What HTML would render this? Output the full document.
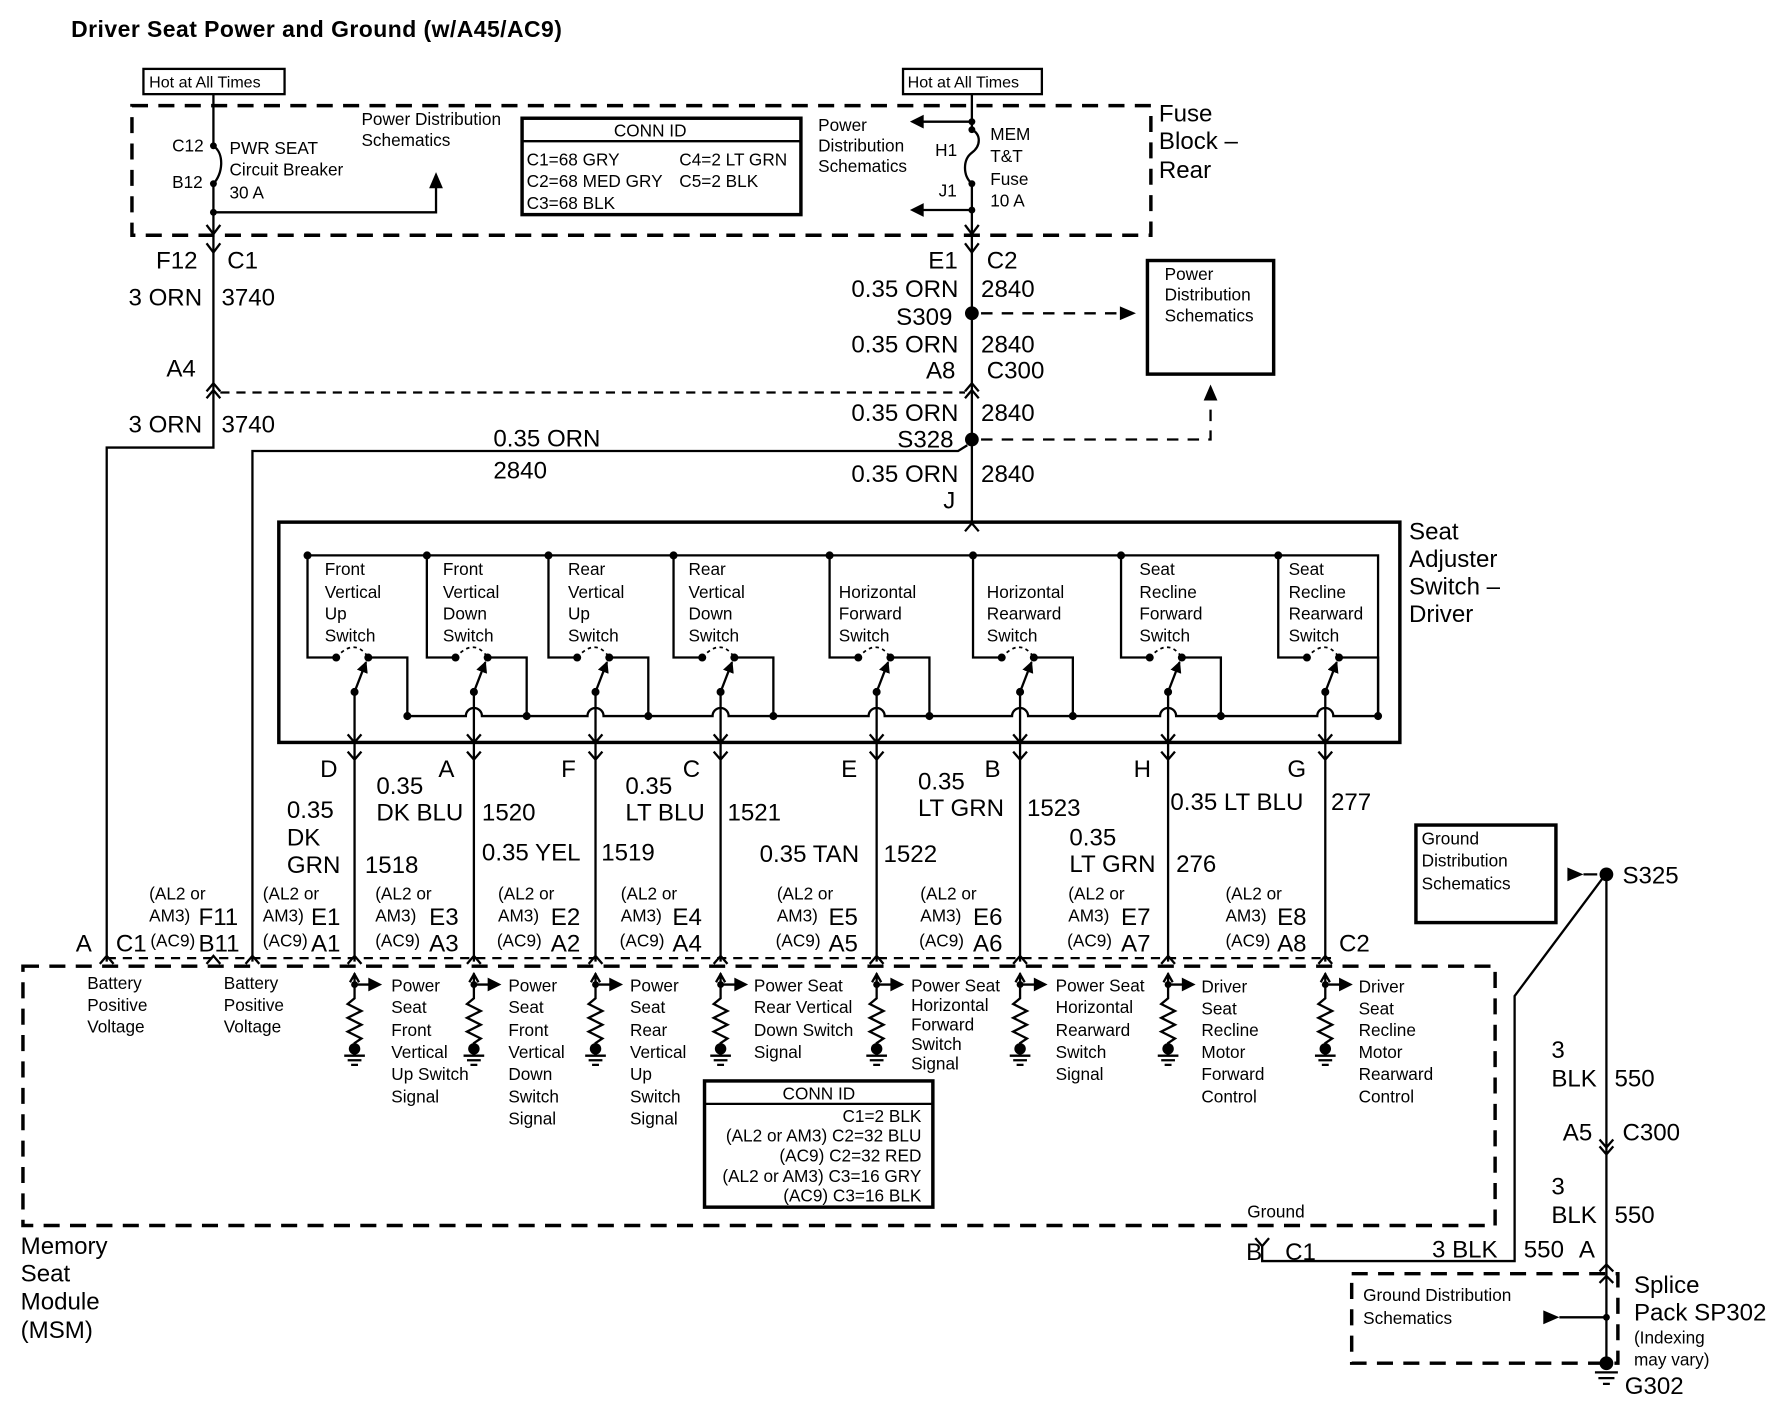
<!DOCTYPE html>
<html><head><meta charset="utf-8"><style>
html,body{margin:0;padding:0;background:#fff}
svg{display:block}
text{font-family:"Liberation Sans",sans-serif;fill:#000}
.b{font-size:21px}
.s{font-size:15px}
.t{font-size:14px}
</style></head><body>
<svg width="1790" height="1408" viewBox="0 0 1560 1227" xmlns="http://www.w3.org/2000/svg" xmlns:xlink="http://www.w3.org/1999/xlink">
<defs>
<marker id="ar" viewBox="0 0 10 10" refX="9" refY="5" markerWidth="5" markerHeight="5" orient="auto"><path d="M0,0L10,5L0,10z"/></marker>
<g id="sw">
<g stroke="#000" fill="none" stroke-width="2">
<path d="M-41,484V573H-16 M12,573H46V624"/>
<path d="M-16,573Q0,555 12,573" stroke-dasharray="3,3" stroke-width="1.5"/>
<path d="M0,603L10,577" marker-end="url(#ar)"/>
<path d="M0,603V838 M-6,640L0,647L6,640 M-6,655L0,662L6,655 M-6,840L0,833L6,840"/>
<path d="M0,848V870l-6,5l12,6l-12,6l12,6l-12,6l12,6l-6,4V910 M-4,856L0,849L4,856 M0,858H14 M-9,920H9 M-6,924H6 M-3,928H3"/>
</g>
<g fill="#000">
<path d="M12,852L24,858L12,864z"/>
<circle cx="-16" cy="573" r="3.5"/><circle cx="12" cy="573" r="3.5"/><circle cx="0" cy="603" r="3.5"/>
<circle cx="46" cy="624" r="3.5"/><circle cx="-41" cy="484" r="3.5"/>
<circle cx="0" cy="858" r="3"/><circle cx="0" cy="914" r="5"/>
</g>
</g>
</defs>
<rect width="1560" height="1227" fill="#fff"/>
<g stroke="#000" fill="none" stroke-width="2">
<rect x="115" y="92" width="888" height="113" stroke-dasharray="14,9" stroke-width="3"/>
<rect x="125" y="60" width="123" height="22"/>
<rect x="787" y="60" width="121" height="22"/>
<rect x="455" y="103" width="243" height="84" stroke-width="3"/>
<line x1="455" y1="123" x2="698" y2="123"/>
<path d="M186,82V127 M186,160V220 M186,127 C196,134 194,152 186,160"/>
<path d="M186,185H380V162"/>
<path d="M180,196L186,204L192,196"/>
<path d="M847,82V113 M847,160V220 M847,113c8,4 8,14 0,20c-8,6 -8,20 0,27"/>
<path d="M847,106H803 M847,183H803"/>
<path d="M841,196L847,204L853,196"/>
<path d="M180,212L186,220L192,212 M841,212L847,220L853,212"/>
<path d="M186,220V390H93V838"/>
<path d="M180,341L186,334L192,341 M180,347L186,340L192,347"/>
<path d="M841,341L847,334L853,341 M841,347L847,340L853,347"/>
<path d="M192,342H841" stroke-dasharray="8,6"/>
<path d="M847,220V455"/>
<path d="M855,273H975" stroke-dasharray="10,8"/>
<rect x="1000" y="227" width="110" height="99" stroke-width="3"/>
<path d="M855,383H1055V350" stroke-dasharray="10,8"/>
<path d="M843,388L835,393H220V838"/>
<path d="M841,463L847,456L853,463"/>
<rect x="243" y="455" width="977" height="192" stroke-width="3"/>
<path d="M268,484H1201V624"/>
<path d="M355,624H406a7,7 0 0 1 14,0H512a7,7 0 0 1 14,0H621a7,7 0 0 1 14,0H757a7,7 0 0 1 14,0H882a7,7 0 0 1 14,0H1011a7,7 0 0 1 14,0H1148a7,7 0 0 1 14,0H1201"/>
<rect x="20" y="842" width="1283" height="226" stroke-dasharray="14,9" stroke-width="3"/>
<path d="M93,835H1160" stroke-dasharray="8,6"/>
<path d="M87,840L93,833L99,840 M180,840L186,833L192,840 M214,840L220,833L226,840"/>
<rect x="614" y="942" width="199" height="110" stroke-width="3"/>
<line x1="614" y1="962" x2="813" y2="962"/>
<path d="M1094,1079L1100,1086L1106,1079 M1100,1086V1099H1320V868L1397,765"/>
<rect x="1234" y="719" width="122" height="85" stroke-width="3"/>
<path d="M1400,762V1188 M1394,993L1400,1000L1406,993 M1394,999L1400,1006L1406,999"/>
<path d="M1394,1108L1400,1102L1406,1108 M1394,1118L1400,1112L1406,1118"/>
<path d="M1380,762H1392 M1359,1148H1400"/>
<rect x="1178" y="1110" width="232" height="78" stroke-dasharray="14,9" stroke-width="3"/>
<path d="M1390,1196H1410 M1393,1201H1407 M1397,1206H1403"/>
</g>
<g fill="#000">
<path d="M374,164L380,150L386,164z M805,100L793,106L805,112z M805,177L793,183L805,189z M976,267L990,273L976,279z M1049,349L1055,335L1061,349z M1366,756L1380,762L1366,768z M1345,1142L1359,1148L1345,1154z"/>
<circle cx="186" cy="127" r="3"/><circle cx="186" cy="160" r="3"/><circle cx="186" cy="185" r="3"/>
<circle cx="847" cy="106" r="3"/><circle cx="847" cy="113" r="3"/><circle cx="847" cy="160" r="3"/><circle cx="847" cy="183" r="3"/>
<circle cx="847" cy="273" r="6"/><circle cx="847" cy="383" r="6"/>
<circle cx="1400" cy="762" r="6"/><circle cx="1400" cy="1148" r="3"/><circle cx="1400" cy="1188" r="6"/>
</g>
<use xlink:href="#sw" href="#sw" x="309"/>
<use xlink:href="#sw" href="#sw" x="413"/>
<use xlink:href="#sw" href="#sw" x="519"/>
<use xlink:href="#sw" href="#sw" x="628"/>
<use xlink:href="#sw" href="#sw" x="764"/>
<use xlink:href="#sw" href="#sw" x="889"/>
<use xlink:href="#sw" href="#sw" x="1018"/>
<use xlink:href="#sw" href="#sw" x="1155"/>
<text x="62" y="32" style="font-size:20px;font-weight:bold;letter-spacing:0.4px">Driver Seat Power and Ground (w/A45/AC9)</text>
<text class="t" x="130" y="76">Hot at All Times</text>
<text class="t" x="791" y="76">Hot at All Times</text>
<text class="s" x="315" y="109">Power Distribution</text><text class="s" x="315" y="127">Schematics</text>
<text class="s" x="150" y="132">C12</text><text class="s" x="150" y="164">B12</text>
<text class="s" x="200" y="134">PWR SEAT</text><text class="s" x="200" y="153">Circuit Breaker</text><text class="s" x="200" y="173">30 A</text>
<text class="s" x="535" y="119">CONN ID</text>
<text class="s" x="459" y="144">C1=68 GRY</text><text class="s" x="592" y="144">C4=2 LT GRN</text>
<text class="s" x="459" y="163">C2=68 MED GRY</text><text class="s" x="592" y="163">C5=2 BLK</text>
<text class="s" x="459" y="182">C3=68 BLK</text>
<text class="s" x="713" y="114">Power</text><text class="s" x="713" y="132">Distribution</text><text class="s" x="713" y="150">Schematics</text>
<text class="s" x="815" y="136">H1</text><text class="s" x="818" y="171">J1</text>
<text class="s" x="863" y="122">MEM</text><text class="s" x="863" y="141">T&amp;T</text><text class="s" x="863" y="161">Fuse</text><text class="s" x="863" y="180">10 A</text>
<text class="b" x="1010" y="106">Fuse</text><text class="b" x="1010" y="130">Block –</text><text class="b" x="1010" y="155">Rear</text>
<text class="b" x="136" y="234">F12</text><text class="b" x="198" y="234">C1</text>
<text class="b" x="112" y="266">3 ORN</text><text class="b" x="193" y="266">3740</text>
<text class="b" x="145" y="328">A4</text>
<text class="b" x="112" y="377">3 ORN</text><text class="b" x="193" y="377">3740</text>
<text class="b" x="809" y="234">E1</text><text class="b" x="860" y="234">C2</text>
<text class="b" x="742" y="259">0.35 ORN</text><text class="b" x="855" y="259">2840</text>
<text class="b" x="781" y="283">S309</text>
<text class="b" x="742" y="307">0.35 ORN</text><text class="b" x="855" y="307">2840</text>
<text class="b" x="807" y="330">A8</text><text class="b" x="860" y="330">C300</text>
<text class="b" x="742" y="367">0.35 ORN</text><text class="b" x="855" y="367">2840</text>
<text class="b" x="782" y="390">S328</text>
<text class="b" x="742" y="420">0.35 ORN</text><text class="b" x="855" y="420">2840</text>
<text class="b" x="822" y="443">J</text>
<text class="b" x="430" y="389">0.35 ORN</text><text class="b" x="430" y="417">2840</text>
<text class="s" x="1015" y="244">Power</text><text class="s" x="1015" y="262">Distribution</text><text class="s" x="1015" y="280">Schematics</text>
<text class="b" x="1228" y="470">Seat</text><text class="b" x="1228" y="494">Adjuster</text><text class="b" x="1228" y="518">Switch –</text><text class="b" x="1228" y="542">Driver</text>
<g class="s">
<text x="283" y="501">Front</text><text x="283" y="521">Vertical</text><text x="283" y="540">Up</text><text x="283" y="559">Switch</text>
<text x="386" y="501">Front</text><text x="386" y="521">Vertical</text><text x="386" y="540">Down</text><text x="386" y="559">Switch</text>
<text x="495" y="501">Rear</text><text x="495" y="521">Vertical</text><text x="495" y="540">Up</text><text x="495" y="559">Switch</text>
<text x="600" y="501">Rear</text><text x="600" y="521">Vertical</text><text x="600" y="540">Down</text><text x="600" y="559">Switch</text>
<text x="731" y="521">Horizontal</text><text x="731" y="540">Forward</text><text x="731" y="559">Switch</text>
<text x="860" y="521">Horizontal</text><text x="860" y="540">Rearward</text><text x="860" y="559">Switch</text>
<text x="993" y="501">Seat</text><text x="993" y="521">Recline</text><text x="993" y="540">Forward</text><text x="993" y="559">Switch</text>
<text x="1123" y="501">Seat</text><text x="1123" y="521">Recline</text><text x="1123" y="540">Rearward</text><text x="1123" y="559">Switch</text>
</g>
<g class="b">
<text x="279" y="677">D</text><text x="382" y="677">A</text><text x="489" y="677">F</text><text x="595" y="677">C</text><text x="733" y="677">E</text><text x="858" y="677">B</text><text x="988" y="677">H</text><text x="1122" y="677">G</text>
<text x="250" y="713">0.35</text><text x="250" y="737">DK</text><text x="250" y="761">GRN</text><text x="318" y="761">1518</text>
<text x="328" y="692">0.35</text><text x="328" y="715">DK BLU</text><text x="420" y="715">1520</text>
<text x="420" y="750">0.35 YEL</text><text x="524" y="750">1519</text>
<text x="545" y="692">0.35</text><text x="545" y="715">LT BLU</text><text x="634" y="715">1521</text>
<text x="662" y="751">0.35 TAN</text><text x="770" y="751">1522</text>
<text x="800" y="688">0.35</text><text x="800" y="711">LT GRN</text><text x="895" y="711">1523</text>
<text x="932" y="737">0.35</text><text x="932" y="760">LT GRN</text><text x="1025" y="760">276</text>
<text x="1020" y="706">0.35 LT BLU</text><text x="1160" y="706">277</text>
<text x="66" y="829">A</text><text x="101" y="829">C1</text><text x="1167" y="829">C2</text>
<text x="173" y="806">F11</text><text x="173" y="829">B11</text>
<text x="271" y="806">E1</text><text x="271" y="829">A1</text>
<text x="374" y="806">E3</text><text x="374" y="829">A3</text>
<text x="480" y="806">E2</text><text x="480" y="829">A2</text>
<text x="586" y="806">E4</text><text x="586" y="829">A4</text>
<text x="722" y="806">E5</text><text x="722" y="829">A5</text>
<text x="848" y="806">E6</text><text x="848" y="829">A6</text>
<text x="977" y="806">E7</text><text x="977" y="829">A7</text>
<text x="1113" y="806">E8</text><text x="1113" y="829">A8</text>
</g>
<g class="s">
<text x="130" y="784">(AL2 or</text><text x="130" y="803">AM3)</text><text x="131" y="825">(AC9)</text>
<text x="229" y="784">(AL2 or</text><text x="229" y="803">AM3)</text><text x="229" y="825">(AC9)</text>
<text x="327" y="784">(AL2 or</text><text x="327" y="803">AM3)</text><text x="327" y="825">(AC9)</text>
<text x="434" y="784">(AL2 or</text><text x="434" y="803">AM3)</text><text x="433" y="825">(AC9)</text>
<text x="541" y="784">(AL2 or</text><text x="541" y="803">AM3)</text><text x="540" y="825">(AC9)</text>
<text x="677" y="784">(AL2 or</text><text x="677" y="803">AM3)</text><text x="676" y="825">(AC9)</text>
<text x="802" y="784">(AL2 or</text><text x="802" y="803">AM3)</text><text x="801" y="825">(AC9)</text>
<text x="931" y="784">(AL2 or</text><text x="931" y="803">AM3)</text><text x="930" y="825">(AC9)</text>
<text x="1068" y="784">(AL2 or</text><text x="1068" y="803">AM3)</text><text x="1068" y="825">(AC9)</text>
<text x="76" y="862">Battery</text><text x="76" y="881">Positive</text><text x="76" y="900">Voltage</text>
<text x="195" y="862">Battery</text><text x="195" y="881">Positive</text><text x="195" y="900">Voltage</text>
<text x="341" y="864">Power</text><text x="341" y="883">Seat</text><text x="341" y="903">Front</text><text x="341" y="922">Vertical</text><text x="341" y="941">Up Switch</text><text x="341" y="961">Signal</text>
<text x="443" y="864">Power</text><text x="443" y="883">Seat</text><text x="443" y="903">Front</text><text x="443" y="922">Vertical</text><text x="443" y="941">Down</text><text x="443" y="961">Switch</text><text x="443" y="980">Signal</text>
<text x="549" y="864">Power</text><text x="549" y="883">Seat</text><text x="549" y="903">Rear</text><text x="549" y="922">Vertical</text><text x="549" y="941">Up</text><text x="549" y="961">Switch</text><text x="549" y="980">Signal</text>
<text x="657" y="864">Power Seat</text><text x="657" y="883">Rear Vertical</text><text x="657" y="903">Down Switch</text><text x="657" y="922">Signal</text>
<text x="794" y="864">Power Seat</text><text x="794" y="881">Horizontal</text><text x="794" y="898">Forward</text><text x="794" y="915">Switch</text><text x="794" y="932">Signal</text>
<text x="920" y="864">Power Seat</text><text x="920" y="883">Horizontal</text><text x="920" y="903">Rearward</text><text x="920" y="922">Switch</text><text x="920" y="941">Signal</text>
<text x="1047" y="865">Driver</text><text x="1047" y="884">Seat</text><text x="1047" y="903">Recline</text><text x="1047" y="922">Motor</text><text x="1047" y="941">Forward</text><text x="1047" y="961">Control</text>
<text x="1184" y="865">Driver</text><text x="1184" y="884">Seat</text><text x="1184" y="903">Recline</text><text x="1184" y="922">Motor</text><text x="1184" y="941">Rearward</text><text x="1184" y="961">Control</text>
<text x="682" y="958">CONN ID</text>
<text x="803" y="978" text-anchor="end">C1=2 BLK</text>
<text x="803" y="995" text-anchor="end">(AL2 or AM3) C2=32 BLU</text>
<text x="803" y="1012" text-anchor="end">(AC9) C2=32 RED</text>
<text x="803" y="1030" text-anchor="end">(AL2 or AM3) C3=16 GRY</text>
<text x="803" y="1047" text-anchor="end">(AC9) C3=16 BLK</text>
<text x="1087" y="1061">Ground</text>
<text x="1239" y="736">Ground</text><text x="1239" y="755">Distribution</text><text x="1239" y="775">Schematics</text>
<text x="1188" y="1134">Ground Distribution</text><text x="1188" y="1154">Schematics</text>
<text x="1424" y="1171">(Indexing</text><text x="1424" y="1190">may vary)</text>
</g>
<g class="b">
<text x="18" y="1093">Memory</text><text x="18" y="1117">Seat</text><text x="18" y="1141">Module</text><text x="18" y="1166">(MSM)</text>
<text x="1086" y="1098">B</text><text x="1120" y="1098">C1</text>
<text x="1248" y="1096">3 BLK</text><text x="1328" y="1096">550</text><text x="1376" y="1096">A</text>
<text x="1414" y="770">S325</text>
<text x="1352" y="922">3</text><text x="1352" y="947">BLK</text><text x="1407" y="947">550</text>
<text x="1362" y="994">A5</text><text x="1414" y="994">C300</text>
<text x="1352" y="1041">3</text><text x="1352" y="1066">BLK</text><text x="1407" y="1066">550</text>
<text x="1424" y="1127">Splice</text><text x="1424" y="1151">Pack SP302</text>
<text x="1416" y="1215">G302</text>
</g>
</svg>
</body></html>
